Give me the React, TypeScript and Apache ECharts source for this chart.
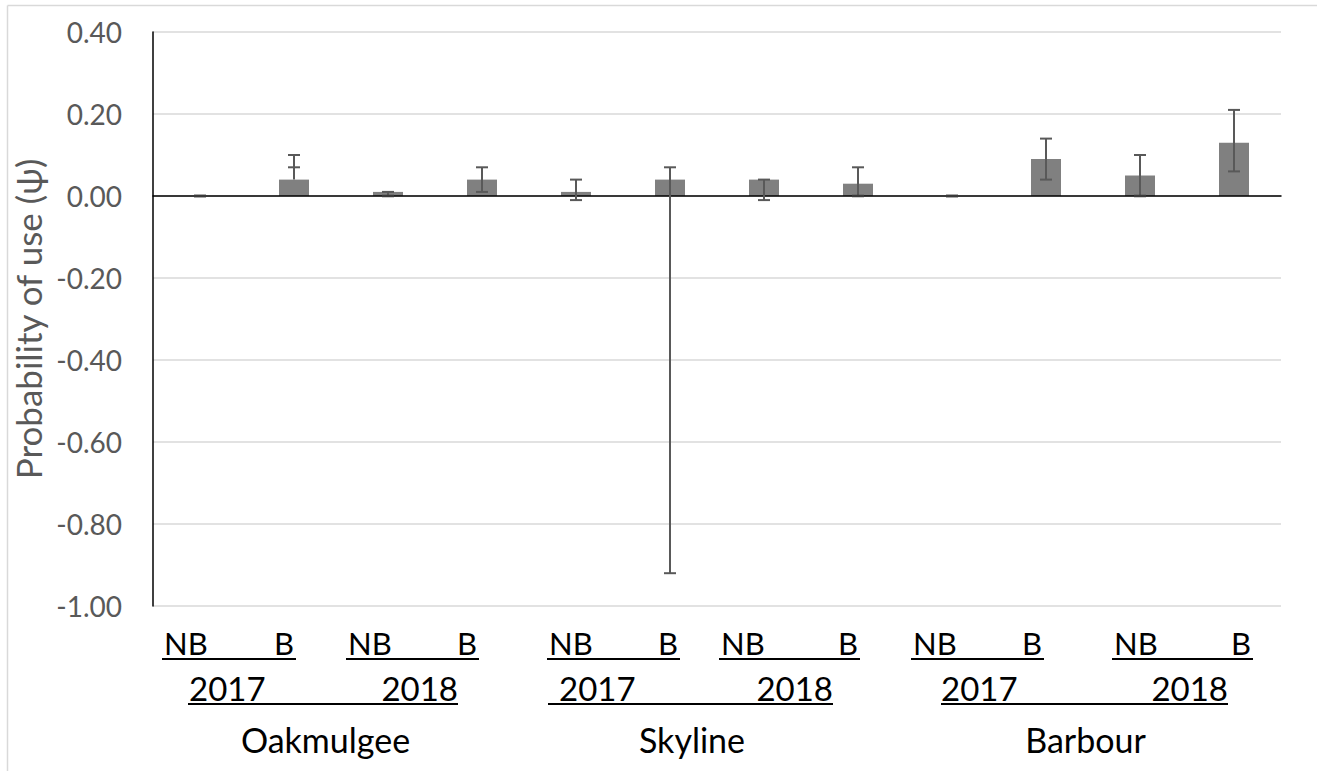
import React, { useEffect, useRef } from "react";
import * as echarts from "echarts";

// ---- data ----
const sites = ["Oakmulgee", "Skyline", "Barbour"];
const years = ["2017", "2018"];
const treatments = ["NB", "B"];
const categories: string[] = [];
sites.forEach((s) => years.forEach((y) => treatments.forEach((t) => categories.push(`${s} ${y} ${t}`))));

const psi = [0, 0.04, 0.01, 0.04, 0.01, 0.04, 0.04, 0.03, 0, 0.09, 0.05, 0.13];
const errLow = [0, 0.07, 0.0, 0.01, -0.01, -0.92, -0.01, 0.0, 0, 0.04, 0.0, 0.06];
const errHigh = [0, 0.1, 0.01, 0.07, 0.04, 0.07, 0.04, 0.07, 0, 0.14, 0.1, 0.21];

const yMin = -1.0;
const yMax = 0.4;
const yStep = 0.2;

// ---- annotation layout (hand-placed category labels, as in the original) ----
const treatmentRowSpans = [
  [162, 296],
  [346, 479],
  [547, 680],
  [719, 860],
  [911, 1044],
  [1112, 1253],
];
const yearRowSpans = [
  { start: 188, end: 458, firstLeft: 189 },
  { start: 548, end: 833, firstLeft: 559 },
  { start: 941, end: 1228, firstLeft: 941 },
];
const siteCenters = [325.5, 692, 1085.5];

const FONT = "Lato, 'Open Sans', sans-serif";

export default function App() {
  const ref = useRef<HTMLDivElement>(null);

  useEffect(() => {
    document.body.style.margin = "0";
    document.body.style.overflow = "hidden";
    if (!ref.current) return;
    const chart = echarts.init(ref.current, null, { renderer: "svg" });

    const graphics: any[] = [];
    // outer chart frame (top + left)
    graphics.push({
      type: "line",
      shape: { x1: 7.5, y1: 5.5, x2: 1317, y2: 5.5 },
      style: { stroke: "#d9d9d9", lineWidth: 1.5 },
    });
    graphics.push({
      type: "line",
      shape: { x1: 7.5, y1: 5.5, x2: 7.5, y2: 771 },
      style: { stroke: "#d9d9d9", lineWidth: 1.5 },
    });

    const row1Mid = 643;
    const row1Under = 659;
    const row2Mid = 688;
    const row2Under = 704;
    const siteMid = 739;
    const f1 = `31px ${FONT}`;
    const f2 = `33px ${FONT}`;
    const f3 = `34px ${FONT}`;

    treatmentRowSpans.forEach(([a, b]) => {
      graphics.push({
        type: "text",
        style: { text: treatments[0], x: a + 2, y: row1Mid, align: "left", verticalAlign: "middle", font: f1, fill: "#000" },
      });
      graphics.push({
        type: "text",
        style: { text: treatments[1], x: b - 2, y: row1Mid, align: "right", verticalAlign: "middle", font: f1, fill: "#000" },
      });
      graphics.push({
        type: "line",
        shape: { x1: a, y1: row1Under, x2: b, y2: row1Under },
        style: { stroke: "#000", lineWidth: 2 },
      });
    });

    yearRowSpans.forEach((sp) => {
      graphics.push({
        type: "text",
        style: { text: years[0], x: sp.firstLeft, y: row2Mid, align: "left", verticalAlign: "middle", font: f2, fill: "#000" },
      });
      graphics.push({
        type: "text",
        style: { text: years[1], x: sp.end, y: row2Mid, align: "right", verticalAlign: "middle", font: f2, fill: "#000" },
      });
      graphics.push({
        type: "line",
        shape: { x1: sp.start, y1: row2Under, x2: sp.end, y2: row2Under },
        style: { stroke: "#000", lineWidth: 2 },
      });
    });

    sites.forEach((s, i) => {
      graphics.push({
        type: "text",
        style: { text: s, x: siteCenters[i], y: siteMid, align: "center", verticalAlign: "middle", font: f3, fill: "#000" },
      });
    });

    const errData = categories.map((c, i) => [i, psi[i], errLow[i], errHigh[i]]);

    chart.setOption({
      animation: false,
      backgroundColor: "#fff",
      textStyle: { fontFamily: FONT },
      grid: { left: 153, right: 45, top: 32, bottom: 165, containLabel: false },
      xAxis: {
        type: "category",
        data: categories,
        boundaryGap: true,
        axisLine: { show: true, onZero: true, lineStyle: { color: "#000", width: 1.5 } },
        axisTick: { show: false },
        axisLabel: { show: false },
        splitLine: { show: false },
        z: 5,
      },
      yAxis: {
        type: "value",
        min: yMin,
        max: yMax,
        interval: yStep,
        name: "Probability of use (\u03C8)",
        nameLocation: "middle",
        nameGap: 86,
        nameTextStyle: { fontSize: 35, color: "#595959", fontFamily: FONT },
        axisLine: { show: true, lineStyle: { color: "#000", width: 1.5 } },
        axisTick: { show: false },
        axisLabel: {
          fontSize: 28,
          color: "#595959",
          fontFamily: FONT,
          margin: 31,
          formatter: (v: number) => v.toFixed(2),
        },
        splitLine: { show: true, lineStyle: { color: "#d9d9d9", width: 1.5 } },
      },
      series: [
        {
          type: "bar",
          data: psi,
          barWidth: 30,
          itemStyle: { color: "#808080" },
          z: 2,
        },
        {
          type: "custom",
          z: 6,
          data: errData,
          encode: { x: 0, y: [1, 2, 3] },
          renderItem: (params: any, api: any) => {
            const idx = api.value(0);
            const v = api.value(1);
            const lo = api.value(2);
            const hi = api.value(3);
            const pv = api.coord([idx, v]);
            const pl = api.coord([idx, lo]);
            const ph = api.coord([idx, hi]);
            const x = pv[0];
            const top = Math.min(pv[1], pl[1], ph[1]);
            const bot = Math.max(pv[1], pl[1], ph[1]);
            const half = 6;
            const st = { stroke: "#595959", lineWidth: 2 };
            const capSt = { stroke: "#3a3a3a", lineWidth: 2.5 };
            return {
              type: "group",
              children: [
                { type: "line", shape: { x1: x, y1: top, x2: x, y2: bot }, style: st },
                { type: "line", shape: { x1: x - half, y1: pl[1], x2: x + half, y2: pl[1] }, style: lo === 0 ? capSt : st },
                { type: "line", shape: { x1: x - half, y1: ph[1], x2: x + half, y2: ph[1] }, style: hi === 0 ? capSt : st },
              ],
            };
          },
        },
      ],
      graphic: graphics,
    });

    return () => chart.dispose();
  }, []);

  return <div ref={ref} style={{ width: 1326, height: 771 }} />;
}
